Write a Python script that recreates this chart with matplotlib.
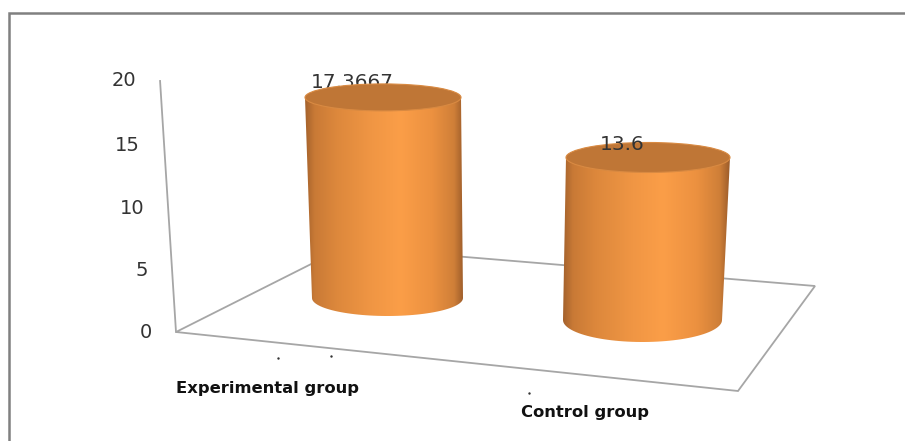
import numpy as np
import matplotlib
matplotlib.use("Agg")
import matplotlib.pyplot as plt
from matplotlib.colors import LinearSegmentedColormap
from matplotlib.patches import Ellipse, Polygon

categories = ["Experimental group", "Control group"]
values = [17.3667, 13.6]
value_labels = ["17.3667", "13.6"]
y_ticks = [0, 5, 10, 15, 20]

# picture layout, all in pixels
W, H = 905, 441
axis_top = (160, 80)
axis_bottom = (176, 332)
floor = [(176, 332), (345, 247), (815, 286), (738, 391)]

# one dict per cylinder: where the foot sits and how the perspective scales it
cyl_layout = [
    dict(x_top=(305, 461), x_base=(312, 463), base_y=298, ry=13.5, base_ry=18, px_per_unit=11.55),
    dict(x_top=(566, 730), x_base=(563, 722), base_y=320, ry=15, base_ry=22, px_per_unit=11.95),
]
label_pos = [(352, 82), (622, 145)]
cat_pos = [(267, 388), (585, 413)]
specks = [(278, 358), (331, 356), (529, 393)]

body_cmap = LinearSegmentedColormap.from_list("body", [
    (0.0, "#a5622c"), (0.06, "#c97a36"), (0.2, "#dd883c"), (0.42, "#f09644"),
    (0.6, "#fb9e48"), (0.8, "#ec9140"), (0.94, "#cf7f38"), (1.0, "#9c5c2a")])


def axis_height(v):
    # the value axis shrinks slightly towards the bottom of the chart
    return 12.09 * v / (1 - 0.00184 * v)


def axis_point(v):
    y = axis_bottom[1] - axis_height(v)
    frac = (axis_bottom[1] - y) / (axis_bottom[1] - axis_top[1])
    x = axis_bottom[0] + (axis_top[0] - axis_bottom[0]) * frac
    return x, y


def draw_cylinder(ax, value, cyl):
    xt0, xt1 = cyl["x_top"]
    xb0, xb1 = cyl["x_base"]
    base_y = cyl["base_y"]
    top_y = base_y - value * cyl["px_per_unit"]

    t = np.linspace(0, np.pi, 60)
    cb, rb = (xb0 + xb1) / 2, (xb1 - xb0) / 2
    base_x = cb + rb * np.cos(t)
    base_arc = base_y + cyl["base_ry"] * np.sin(t)
    outline = [(xt0, top_y), (xt1, top_y)] + list(zip(base_x, base_arc))
    poly = Polygon(outline, closed=True, facecolor="none", edgecolor="none")
    ax.add_patch(poly)

    grad = np.linspace(0, 1, 256).reshape(1, -1)
    im = ax.imshow(grad, cmap=body_cmap, aspect="auto", zorder=3,
                   extent=(min(xt0, xb0), max(xt1, xb1), base_y + cyl["base_ry"] + 2, top_y - 2))
    im.set_clip_path(poly)

    ax.add_patch(Ellipse(((xt0 + xt1) / 2, top_y), xt1 - xt0, 2 * cyl["ry"],
                         facecolor="#bf7636", edgecolor="#d98a42", linewidth=0.8, zorder=5))
    return top_y


fig = plt.figure(figsize=(W / 100, H / 100), dpi=100)
ax = fig.add_axes([0, 0, 1, 1])
ax.set_xlim(0, W)
ax.set_ylim(H, 0)
ax.axis("off")

# the outer frame only survives on the top and left
ax.plot([9, 9, W], [H, 13, 13], color="#808080", linewidth=1.8, solid_joinstyle="miter")
ax.add_patch(Polygon(floor, closed=True, facecolor="none", edgecolor="#a6a6a6", linewidth=1.3, zorder=2))

x0, y0 = axis_point(0)
x1, y1 = axis_point(20)
ax.plot([x0, x1], [y0, y1], color="#a6a6a6", linewidth=1.3, zorder=2)

for tick in y_ticks:
    x, y = axis_point(tick)
    ax.text(x - 24, y, str(tick), ha="right", va="center", fontsize=14, color="#333333")

for i, value in enumerate(values):
    draw_cylinder(ax, value, cyl_layout[i])

# first label sits behind the cap in the original, the second in front of it
ax.text(*label_pos[0], value_labels[0], ha="center", va="center", fontsize=14.5, color="#333333", zorder=4)
ax.text(*label_pos[1], value_labels[1], ha="center", va="center", fontsize=14.5, color="#333333", zorder=6)

for name, pos in zip(categories, cat_pos):
    ax.text(*pos, name, ha="center", va="center", fontsize=11.8, fontweight="bold", color="#111111")

sx, sy = zip(*specks)
ax.scatter(sx, sy, s=3, color="#333333", linewidths=0)

fig.savefig("out.png", dpi=100)
